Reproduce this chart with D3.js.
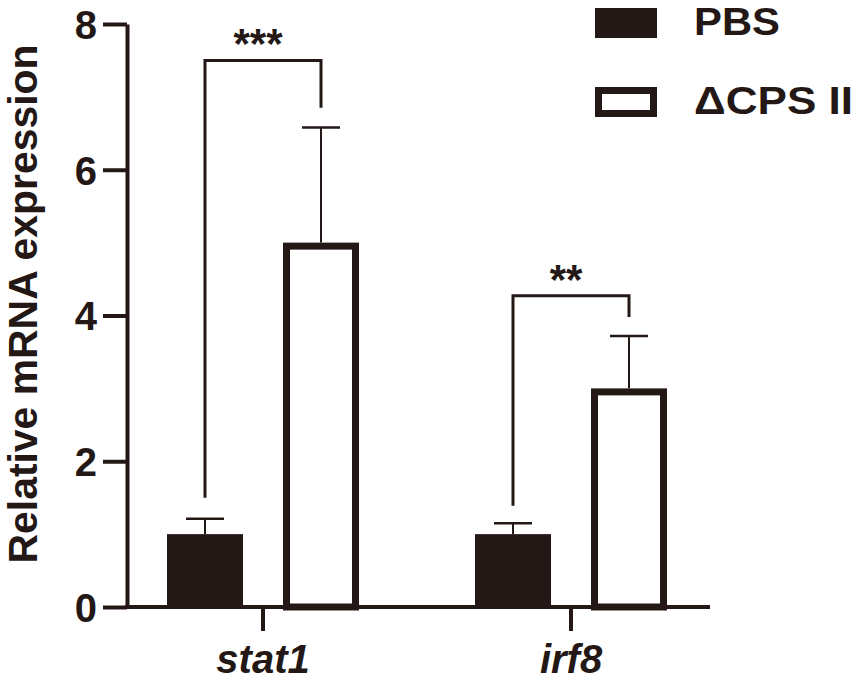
<!DOCTYPE html>
<html>
<head>
<meta charset="utf-8">
<script src="https://cdn.jsdelivr.net/npm/d3@7"></script>
<style>
	body { margin: 0; background: #fff; }
	text { font-family: "Liberation Sans", Arial, sans-serif; font-weight: bold; fill: #231815; }
</style>
</head>
<body>
<svg></svg>
<script>
const svgWidth = 854;
const svgHeight = 682;
const ink = "#231815";

// data
const genes = ["stat1", "irf8"];
const groups = ["PBS", "ΔCPS II"];
const pbsMean = [1.0, 1.0];
const pbsSD = [0.21, 0.15];
const cpsMean = [5.0, 3.0];
const cpsSD = [1.58, 0.72];
const yTicks = [0, 2, 4, 6, 8];
const sigLabels = ["***", "**"];
const bracketTop = [7.5, 4.27];
const bracketLeftEnd = [1.5, 1.39];
const bracketRightEnd = [6.85, 3.98];

const rows = [];
genes.forEach((g, i) => {
	rows.push({ gene: g, group: groups[0], mean: pbsMean[i], sd: pbsSD[i] });
	rows.push({ gene: g, group: groups[1], mean: cpsMean[i], sd: cpsSD[i] });
});

const svg = d3.select("svg")
	.attr("width", svgWidth)
	.attr("height", svgHeight);

const xOuter = d3.scaleBand()
	.domain(genes)
	.range([109, 725])
	.padding(0);
const xInner = d3.scaleBand()
	.domain(groups)
	.range([0, xOuter.bandwidth()])
	.paddingInner(0.345)
	.paddingOuter(0.5);
const y = d3.scaleLinear()
	.domain([0, 8])
	.range([607, 24]);

const barX = d => xOuter(d.gene) + xInner(d.group);
const barMid = (gene, group) => xOuter(gene) + xInner(group) + xInner.bandwidth() / 2;

// Bars
const stroke = 7;
svg.selectAll("rect.bar")
	.data(rows)
	.enter()
	.append("rect")
		.attr("class", "bar")
		.attr("x", d => d.group === groups[0] ? barX(d) : barX(d) + stroke / 2)
		.attr("y", d => d.group === groups[0] ? y(d.mean) : y(d.mean) + stroke / 2)
		.attr("width", d => d.group === groups[0] ? xInner.bandwidth() : xInner.bandwidth() - stroke)
		.attr("height", d => d.group === groups[0] ? y(0) - y(d.mean) : y(0) - y(d.mean) - stroke / 2)
		.attr("fill", d => d.group === groups[0] ? ink : "#fff")
		.attr("stroke", d => d.group === groups[0] ? "none" : ink)
		.attr("stroke-width", stroke);

// Error bars
const capHalf = 19;
const err = svg.append("g").attr("stroke", ink);
err.selectAll("line.stem")
	.data(rows)
	.enter()
	.append("line")
		.attr("x1", d => barMid(d.gene, d.group))
		.attr("x2", d => barMid(d.gene, d.group))
		.attr("y1", d => y(d.mean))
		.attr("y2", d => y(d.mean + d.sd))
		.attr("stroke-width", 2);
err.selectAll("line.cap")
	.data(rows)
	.enter()
	.append("line")
		.attr("x1", d => barMid(d.gene, d.group) - capHalf)
		.attr("x2", d => barMid(d.gene, d.group) + capHalf)
		.attr("y1", d => y(d.mean + d.sd))
		.attr("y2", d => y(d.mean + d.sd))
		.attr("stroke-width", 2.5);

// Axes
const yAxis = d3.axisLeft(y)
	.tickValues(yTicks)
	.tickSize(24)
	.tickSizeOuter(0)
	.tickPadding(6);
const gy = svg.append("g")
	.attr("transform", "translate(127, 0)")
	.call(yAxis);
gy.select(".domain").attr("stroke", ink).attr("stroke-width", 4);
gy.selectAll(".tick line").attr("stroke", ink).attr("stroke-width", 4);
gy.selectAll(".tick text")
	.attr("font-size", 40)
	.attr("font-family", null)
	.attr("dy", "0.36em");

const xAxis = d3.axisBottom(xOuter)
	.tickSize(24)
	.tickSizeOuter(0);
const gx = svg.append("g")
	.attr("transform", `translate(0, ${y(0)})`)
	.call(xAxis);
gx.select(".domain")
	.attr("d", `M125,0H710`)
	.attr("stroke", ink)
	.attr("stroke-width", 4);
gx.selectAll(".tick line").attr("stroke", ink).attr("stroke-width", 4);
gx.selectAll(".tick text")
	.attr("font-size", 40)
	.attr("font-family", null)
	.attr("font-style", "italic")
	.attr("y", 66)
	.attr("dy", 0);

// Y axis label
svg.append("text")
	.text("Relative mRNA expression")
	.attr("transform", "rotate(-90)")
	.attr("x", -304)
	.attr("y", 37)
	.attr("font-size", 40)
	.attr("textLength", 519)
	.attr("lengthAdjust", "spacingAndGlyphs")
	.attr("text-anchor", "middle");

// Significance brackets
genes.forEach((g, i) => {
	const xl = barMid(g, groups[0]);
	const xr = barMid(g, groups[1]);
	svg.append("path")
		.attr("d", `M${xl},${y(bracketLeftEnd[i])}V${y(bracketTop[i])}H${xr}V${y(bracketRightEnd[i])}`)
		.attr("fill", "none")
		.attr("stroke", ink)
		.attr("stroke-width", 3);
	svg.append("text")
		.text(sigLabels[i])
		.attr("x", (xl + xr) / 2 - 5)
		.attr("y", y(bracketTop[i]) - 2)
		.attr("font-size", 42)
		.attr("text-anchor", "middle");
});

// Legend
const legendWidths = [86, 159];
const legend = svg.append("g");
groups.forEach((grp, i) => {
	const ly = 8 + i * 79;
	legend.append("rect")
		.attr("x", grp === groups[0] ? 595 : 595 + stroke / 2)
		.attr("y", grp === groups[0] ? ly : ly + stroke / 2)
		.attr("width", grp === groups[0] ? 62 : 62 - stroke)
		.attr("height", grp === groups[0] ? 30 : 30 - stroke)
		.attr("fill", grp === groups[0] ? ink : "#fff")
		.attr("stroke", grp === groups[0] ? "none" : ink)
		.attr("stroke-width", stroke);
	legend.append("text")
		.text(grp)
		.attr("x", 694)
		.attr("y", ly + 27)
		.attr("font-size", 38)
		.attr("textLength", legendWidths[i])
		.attr("lengthAdjust", "spacingAndGlyphs");
});
</script>
</body>
</html>
